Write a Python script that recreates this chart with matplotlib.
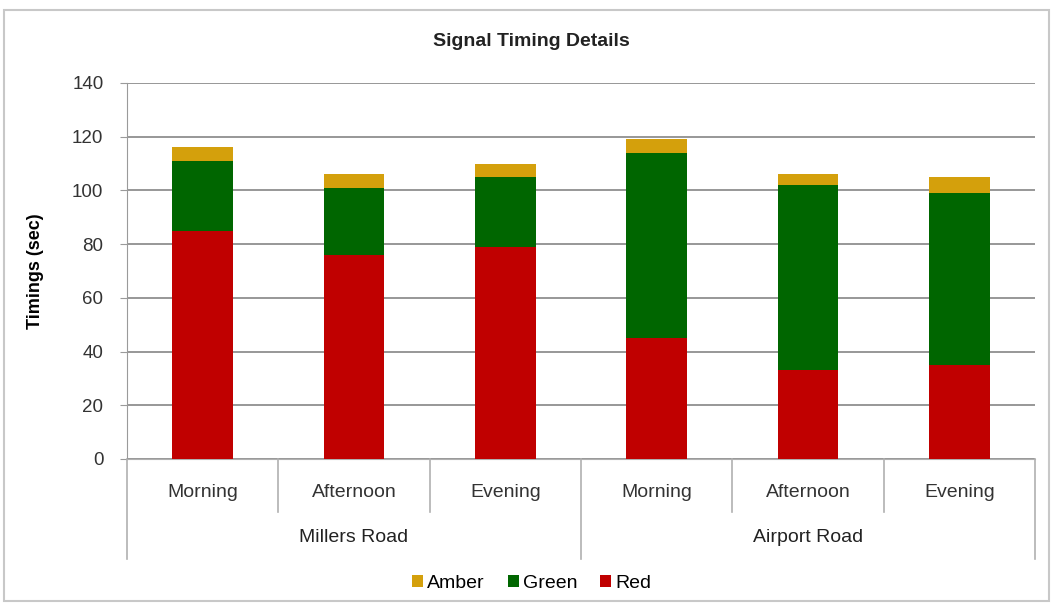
import matplotlib.pyplot as plt
from matplotlib.patches import Rectangle

# Chart data.
roads = ["Millers Road", "Airport Road"]
periods = ["Morning", "Afternoon", "Evening"]
red = [85, 76, 79, 45, 33, 35]
green = [26, 25, 26, 69, 69, 64]
amber = [5, 5, 5, 5, 4, 6]

plt.rcParams["font.family"] = ["Liberation Sans", "DejaVu Sans"]

fig = plt.figure(figsize=(10.53, 6.06), dpi=100)
ax = fig.add_axes([0.1206, 0.2426, 0.8624, 0.6205])

# Stacked bars.
x = list(range(len(red)))
bottom_amber = [r + g for r, g in zip(red, green)]
ax.bar(x, red, width=0.4, color="#C00000", label="Red", zorder=3)
ax.bar(x, green, width=0.4, bottom=red, color="#006600", label="Green", zorder=3)
ax.bar(x, amber, width=0.4, bottom=bottom_amber, color="#D4A00C", label="Amber", zorder=3)

# Axes and grid.
ax.set_xlim(-0.5, 5.5)
ax.set_ylim(0, 140)
ax.set_yticks(range(0, 141, 20))
ax.yaxis.grid(True, color="#858585", linewidth=1.2)
ax.set_axisbelow(True)
for side in ["top", "right"]:
    ax.spines[side].set_visible(False)
ax.spines["left"].set_color("#9a9a9a")
ax.spines["bottom"].set_color("#b0b0b0")
ax.tick_params(axis="y", colors="#9a9a9a", labelcolor="#333333", labelsize=13.5, length=5, pad=12)
ax.set_ylabel("Timings (sec)", fontsize=13, fontweight="bold", labelpad=20)

# Two-level category axis.
ax.set_xticks(x)
ax.set_xticklabels(periods * len(roads), fontsize=14, color="#333333")
ax.tick_params(axis="x", length=0, pad=18)
trans = ax.get_xaxis_transform()
for i in range(len(x) + 1):
    edge = i - 0.5
    low = -0.265 if i % 3 == 0 else -0.14
    ax.plot([edge, edge], [0, low], transform=trans, color="#b0b0b0",
            linewidth=1.2, clip_on=False)
for j, road in enumerate(roads):
    ax.text(j * 3 + 1, -0.21, road, transform=trans, ha="center", va="center",
            fontsize=14, color="#222222")

# Title and legend.
fig.text(0.505, 0.932, "Signal Timing Details", ha="center", va="center",
         fontsize=14, fontweight="bold", color="#222222")
handles, labels = ax.get_legend_handles_labels()
fig.legend(handles[::-1], labels[::-1], loc="center", bbox_to_anchor=(0.505, 0.037),
           ncol=3, frameon=False, fontsize=14, handlelength=0.55, handleheight=0.55,
           handletextpad=0.2, columnspacing=1.2)

# Outer chart border.
fig.patches.append(Rectangle((0.004, 0.008), 0.992, 0.976, transform=fig.transFigure,
                             fill=False, edgecolor="#c8c8c8", linewidth=1.5))

fig.savefig("out.png", dpi=100)
